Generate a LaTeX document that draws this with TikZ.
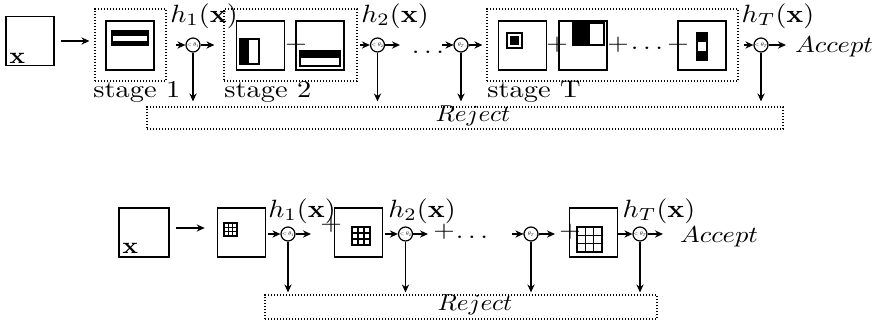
\documentclass[tikz,border=0pt]{standalone}
\usetikzlibrary{arrows.meta}
% text sizes: glyphs are drawn a little wider than tall
\newcommand\htext[1]{\scalebox{1.4}[1.25]{#1}}
\newcommand\ptext[1]{\scalebox{1.38}[1.15]{#1}}
\newcommand\atext[1]{\scalebox{1.32}[1.15]{#1}}
\newcommand\rtext[1]{\scalebox{1.26}[1.15]{#1}}
\newcommand\stext[1]{\scalebox{1.42}[1.2]{#1}}
\newcommand\xtext[1]{\scalebox{1.3}[1.15]{#1}}
\newcommand\thr[1]{\makebox[0pt]{\scalebox{0.3}[0.28]{$<\theta_{#1}$}}}
% a 3x3 grid feature: left, top, size (pixels)
\newcommand\gridfeat[3]{%
  \draw[feat] (#1,#2) rectangle ++(#3,#3);
  \foreach \i in {1,2} {
    \draw[feat] ({#1+#3*\i/3},#2) -- ++(0,#3);
    \draw[feat] (#1,{#2+#3*\i/3}) -- ++(#3,0);
  }}
\begin{document}
\begin{tikzpicture}[x=0.5pt,y=-0.5pt,
  img/.style={draw, line width=0.8pt, minimum width=24pt, minimum height=24.5pt, inner sep=0},
  fine dots/.style={line width=0.55pt, dash pattern=on 0.6pt off 0.9pt},
  stagebox/.style={draw, fine dots, inner sep=0, minimum height=36pt},
  rejbox/.style={draw, fine dots, inner sep=0},
  thrnode/.style={draw, circle, line width=0.6pt, minimum size=7pt, inner sep=0},
  arr/.style={-{Stealth[length=4pt,width=3.6pt]}, line width=0.65pt},
  lbl/.style={inner sep=0, anchor=base},
  stlbl/.style={inner sep=0, anchor=base west},
  feat/.style={draw, line width=0.7pt}
]
\useasboundingbox (0,0) rectangle (885,322);

% ---------------- cascade of boosted stages ----------------
\node[img] (x0) at (30,41) {};
\node[lbl, anchor=base west] (x0t) at (9,63) {\xtext{$\mathbf{x}$}};

\node[stagebox, minimum width=35.5pt] (st1) at (130.5,45) {};
\node[stagebox, minimum width=66.5pt] (st2) at (290.5,45) {};
\node[stagebox, minimum width=125.5pt] (stT) at (612.5,45) {};

\node[img] (s1) at (130,45.5) {};
\node[img] (s2a) at (260.5,45.5) {};
\node[img] (s2b) at (320,45.5) {};
\node[img] (t1) at (522.5,45.5) {};
\node[img] (t2) at (583,45.5) {};
\node[img] (t3) at (702,45.5) {};

% Haar-like features
\fill (111,30) rectangle (149,46);
\fill[white] (113,36) rectangle (147,41);
\fill (240,39) rectangle (249,64);
\draw[feat] (240,39) rectangle (259,64);
\fill (300,51) rectangle (340,58);
\draw[feat] (300,51) rectangle (340,66);
\draw[feat] (507,33) rectangle (522,48);
\fill (510,36) rectangle (519,45);
\fill (573,23) rectangle (590,45);
\draw[feat] (573,23) rectangle (604,45);
\fill (697,33) rectangle (707,42);
\fill (697,51) rectangle (707,60);
\draw[feat] (697,33) rectangle (707,60);

% sums of weak classifiers
\node[lbl] (p1) at (296,50) {\ptext{$+$}};
\node[lbl] (p2) at (557,50) {\ptext{$+$}};
\node[lbl] (p3) at (618,50) {\ptext{$+$}};
\node[lbl] (d0) at (647,49) {\ptext{$\ldots$}};
\node[lbl] (p4) at (678,50) {\ptext{$+$}};

\node[stlbl] (l1) at (93,97) {\stext{stage 1}};
\node[stlbl] (l2) at (224,97) {\stext{stage 2}};
\node[stlbl] (lT) at (487,97) {\stext{stage T}};

% thresholds
\node[thrnode] (c1) at (193,45) {\thr{1}};
\node[thrnode] (c2) at (377.5,45) {\thr{2}};
\node[thrnode] (c3) at (461,45) {\thr{T-1}};
\node[thrnode] (c4) at (761,45) {\thr{T}};

\node[lbl] (h1) at (204,22) {\htext{$h_1(\mathbf{x})$}};
\node[lbl] (h2) at (395,22) {\htext{$h_2(\mathbf{x})$}};
\node[lbl] (hT) at (778,22) {\htext{$h_T(\mathbf{x})$}};
\node[lbl] (dots) at (428,53) {\ptext{$\ldots$}};
\node[lbl] (acc) at (834,52) {\atext{$Accept$}};

\node[rejbox, minimum width=318pt, minimum height=11pt] (rej) at (465,118) {};
\node[lbl] (rejt) at (473,121) {\rtext{$Reject$}};

\coordinate (o2) at (400,45);
\coordinate (i3) at (442,45);
\coordinate (o4) at (786,45);

\draw[arr, shorten <=3pt, shorten >=2.5pt] (x0.east) -- (x0.east -| st1.west);
\draw[arr, shorten <=4.5pt] (st1.east |- c1) -- (c1);
\draw[arr, shorten >=4.5pt] (c1) -- (c1 -| st2.west);
\draw[arr, shorten <=1pt] (st2.east |- c2) -- (c2);
\draw[arr] (c2) -- (o2);
\draw[arr] (i3) -- (c3);
\draw[arr, shorten >=2pt] (c3) -- (c3 -| stT.west);
\draw[arr, shorten <=2.5pt] (stT.east |- c4) -- (c4);
\draw[arr] (c4) -- (o4);
\foreach \c in {c1,c2,c3,c4}
  \draw[arr, shorten >=2.5pt] (\c) -- (\c |- rej.north);

% ---------------- single-feature chain ----------------
\node[img, minimum width=25pt] (xb) at (144,232.5) {};
\node[lbl, anchor=base west] (xbt) at (122,253) {\xtext{$\mathbf{x}$}};
\node[img] (b1) at (241.5,232.5) {};
\node[img] (b2) at (358.5,232.5) {};
\node[img] (bT) at (593.5,232.5) {};

% grid features
\gridfeat{224}{223}{13}
\gridfeat{352}{227}{18}
\gridfeat{577}{227}{25}

\node[lbl] (q1) at (331,230) {\ptext{$+$}};
\node[lbl] (q2) at (444,237) {\ptext{$+$}};
\node[lbl] (dd) at (472,238) {\ptext{$\ldots$}};
\node[lbl] (q3) at (570,237) {\ptext{$+$}};

\node[thrnode] (e1) at (288,234) {\thr{1}};
\node[thrnode] (e2) at (405.5,234) {\thr{2}};
\node[thrnode] (e3) at (531,234) {\thr{T-1}};
\node[thrnode] (e4) at (640,234) {\thr{T}};

\node[lbl] (g1) at (302,217) {\htext{$h_1(\mathbf{x})$}};
\node[lbl] (g2) at (422,217) {\htext{$h_2(\mathbf{x})$}};
\node[lbl] (gT) at (659,217) {\htext{$h_T(\mathbf{x})$}};
\node[lbl] (acc2) at (719,242) {\atext{$Accept$}};

\node[rejbox, minimum width=196pt, minimum height=12pt] (rej2) at (461,307) {};
\node[lbl] (rej2t) at (475,310) {\rtext{$Reject$}};

\coordinate (f1) at (311,234);
\coordinate (f2) at (428,234);
\coordinate (j3) at (512,234);
\coordinate (f3) at (555,234);
\coordinate (f4) at (663,234);

\draw[arr, shorten <=3pt, shorten >=6pt] ([yshift=2.25pt]xb.east) -- ([yshift=2.25pt]b1.west);
\draw[arr, shorten <=1pt] (b1.east |- e1) -- (e1);
\draw[arr] (e1) -- (f1);
\draw[arr, shorten <=1pt] (b2.east |- e2) -- (e2);
\draw[arr] (e2) -- (f2);
\draw[arr] (j3) -- (e3);
\draw[arr] (e3) -- (f3);
\draw[arr] (bT.east |- e4) -- (e4);
\draw[arr] (e4) -- (f4);
\foreach \c in {e1,e2,e3,e4}
  \draw[arr, shorten >=1pt] (\c) -- (\c |- rej2.north);
\end{tikzpicture}
\end{document}
